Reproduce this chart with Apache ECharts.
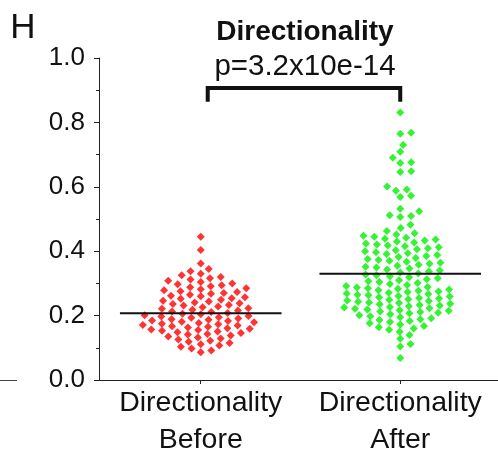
<!DOCTYPE html>
<html><head><meta charset="utf-8">
<script src="https://cdn.jsdelivr.net/npm/echarts@6/dist/echarts.min.js"></script>
<style>html,body{margin:0;padding:0;background:#fff}#c{width:498px;height:454px}</style>
</head><body><div id="c"></div>
<script>
var categories = ['Directionality\nBefore', 'Directionality\nAfter'];
var yTicks = [0, 0.2, 0.4, 0.6, 0.8, 1.0];
var before = [
 0.445, 0.404, 0.362, 0.345, 0.338, 0.330, 0.325, 0.320, 0.316, 0.312, 0.308, 0.304, 0.300, 0.297, 0.294, 0.291, 0.288, 0.285, 0.282, 0.279,
 0.276, 0.273, 0.270, 0.268, 0.265, 0.262, 0.260, 0.257, 0.254, 0.252,
 0.249, 0.246, 0.244, 0.241, 0.238, 0.236, 0.233, 0.231, 0.228, 0.226,
 0.223, 0.221, 0.218, 0.216, 0.213, 0.211, 0.208, 0.206, 0.204, 0.201,
 0.199, 0.197, 0.195, 0.193, 0.191, 0.189, 0.187, 0.185, 0.183, 0.181,
 0.179, 0.177, 0.175, 0.173, 0.171, 0.169, 0.167, 0.165, 0.163, 0.161,
 0.159, 0.157, 0.155, 0.153, 0.151, 0.148, 0.146, 0.143, 0.141, 0.138,
 0.135, 0.132, 0.129, 0.126, 0.122, 0.119, 0.115, 0.111, 0.107, 0.103,
 0.098, 0.092, 0.086
];
var after = [
 0.831, 0.768, 0.765, 0.730, 0.709, 0.690, 0.676, 0.674, 0.648, 0.646,
 0.601, 0.592, 0.588, 0.572, 0.568, 0.532, 0.524, 0.512, 0.509, 0.506,
 0.482, 0.472, 0.463, 0.456, 0.452, 0.448, 0.445, 0.442, 0.439, 0.436,
 0.433, 0.430, 0.427, 0.424, 0.421, 0.418, 0.415, 0.412, 0.409, 0.406,
 0.403, 0.400, 0.397, 0.394, 0.391, 0.388, 0.385, 0.382, 0.379, 0.376,
 0.373, 0.370, 0.367, 0.364, 0.361, 0.358, 0.355, 0.352, 0.349, 0.346,
 0.343, 0.340, 0.337, 0.334, 0.331, 0.328, 0.325, 0.322, 0.319, 0.316,
 0.313, 0.310, 0.307, 0.304, 0.301, 0.298, 0.295, 0.292, 0.289, 0.287,
 0.285, 0.283, 0.281, 0.279, 0.277, 0.275, 0.273, 0.271, 0.269, 0.267,
 0.265, 0.263, 0.261, 0.259, 0.257, 0.255, 0.253, 0.251, 0.249, 0.247,
 0.245, 0.243, 0.241, 0.239, 0.237, 0.235, 0.233, 0.231, 0.229, 0.227,
 0.225, 0.223, 0.221, 0.219, 0.217, 0.215, 0.213, 0.211, 0.209, 0.207,
 0.204, 0.201, 0.198, 0.195, 0.192, 0.189, 0.186, 0.183, 0.180, 0.176,
 0.172, 0.168, 0.164, 0.160, 0.156, 0.150, 0.140, 0.128, 0.112, 0.104,
 0.068
];
var means = [0.207, 0.330];
var meanHalfWidth = 0.405;
var bracketY = [0.870, 0.907];
var bracketX = [1.035, 2.0];
var titleText = 'Directionality';
var pText = 'p=3.2x10e-14';
var panelLetter = 'H';

var FONT = '"Liberation Sans", Arial, sans-serif';
var chart = echarts.init(document.getElementById('c'), null, {renderer: 'canvas'});

function baseOption(seriesData) {
  return {
    animation: false,
    backgroundColor: '#fff',
    grid: {left: 99, right: 0, top: 58, bottom: 74, containLabel: false, outerBoundsMode: 'none'},
    xAxis: {
      type: 'value', min: 0.49, max: 2.49,
      splitLine: {show: false},
      axisLine: {show: true, lineStyle: {color: '#222', width: 1}},
      axisTick: {show: true, inside: false, length: 4, customValues: [1, 2], lineStyle: {color: '#222'}},
      axisLabel: {show: true, customValues: [1, 2], margin: 5, color: '#111', fontSize: 28.5,
        fontFamily: FONT, lineHeight: 37,
        formatter: function (v) { return categories[Math.round(v) - 1]; }}
    },
    yAxis: {
      type: 'value', min: 0, max: 1, interval: 0.2,
      splitLine: {show: false},
      axisLine: {show: true, lineStyle: {color: '#222', width: 1}},
      axisTick: {show: true, inside: false, length: 5, lineStyle: {color: '#222'}},
      minorTick: {show: true, splitNumber: 2, length: 3, lineStyle: {color: '#222'}},
      axisLabel: {margin: 14, color: '#111', fontSize: 26, fontFamily: FONT,
        formatter: function (v) { return v.toFixed(1); }}
    },
    graphic: [
      {type: 'text', x: 23, y: 28, style: {text: panelLetter, fontSize: 35, fontFamily: FONT, fill: '#111', align: 'center', verticalAlign: 'middle'}},
      {type: 'text', x: 305, y: 32, style: {text: titleText, fontSize: 28, fontWeight: 'bold', fontFamily: FONT, fill: '#111', align: 'center', verticalAlign: 'middle'}},
      {type: 'text', x: 305, y: 67, style: {text: pText, fontSize: 29.5, fontFamily: FONT, fill: '#111', align: 'center', verticalAlign: 'middle'}},
      {type: 'line', shape: {x1: 0, y1: 380.5, x2: 17, y2: 380.5}, style: {stroke: '#444', lineWidth: 1}}
    ],
    series: seriesData
  };
}

function build(pxPerX, pxPerY) {
  var groups = [before, after];
  var colors = ['#ff0000', '#00f000'];
  var series = [];
  var Dx = 11, Dy = 7; // anisotropic spacing in px
  groups.forEach(function (vals, gi) {
    var placed = [];
    var sorted = vals.slice().sort(function (a, b) { return a - b; });
    var pts = [];
    sorted.forEach(function (v) {
      var py = v * pxPerY / Dy;
      var cands = [0];
      placed.forEach(function (p) {
        var dy = Math.abs(p.y - py);
        if (dy < 1) {
          var dx = Math.sqrt(1 - dy * dy);
          cands.push(p.x + dx + 0.001, p.x - dx - 0.001);
        }
      });
      cands.sort(function (a, b) { return Math.abs(a) - Math.abs(b); });
      var chosen = 0;
      for (var i = 0; i < cands.length; i++) {
        var c = cands[i], ok = true;
        for (var j = 0; j < placed.length; j++) {
          var ddx = placed[j].x - c, ddy = placed[j].y - py;
          if (ddx * ddx + ddy * ddy < 0.9999) { ok = false; break; }
        }
        if (ok) { chosen = c; break; }
      }
      placed.push({x: chosen, y: py});
      pts.push([gi + 1 + chosen * Dx / pxPerX, v]);
    });
    series.push({
      type: 'scatter', symbol: 'diamond', symbolSize: 8, data: pts,
      itemStyle: {color: colors[gi]}, z: 2
    });
    series.push({
      type: 'line', symbol: 'none', data: [[gi + 1 - meanHalfWidth, means[gi]], [gi + 1 + meanHalfWidth, means[gi]]],
      lineStyle: {color: '#111', width: 2}, z: 3, silent: true
    });
  });
  series.push({
    type: 'line', symbol: 'none',
    data: [[bracketX[0], bracketY[0]], [bracketX[0], bracketY[1]], [bracketX[1], bracketY[1]], [bracketX[1], bracketY[0]]],
    lineStyle: {color: '#111', width: 4, cap: 'square', join: 'miter'}, z: 3, silent: true
  });
  return series;
}

chart.setOption(baseOption([{type: 'scatter', data: []}]));
var p0 = chart.convertToPixel({gridIndex: 0}, [1, 0]);
var p1 = chart.convertToPixel({gridIndex: 0}, [2, 1]);
var pxPerX = p1[0] - p0[0];
var pxPerY = p0[1] - p1[1];
chart.setOption(baseOption(build(pxPerX, pxPerY)), true);
</script>
</body></html>
